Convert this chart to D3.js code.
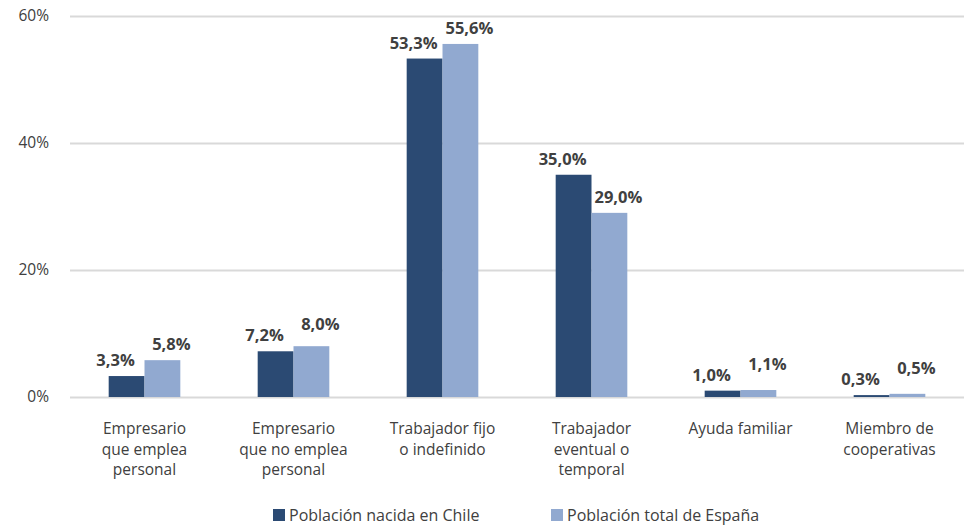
<!DOCTYPE html>
<html>
<head>
<meta charset="utf-8">
<script src="https://cdn.jsdelivr.net/npm/d3@7"></script>
<style>
  html, body { margin: 0; padding: 0; background: #fff; }
  svg { display: block; }
</style>
</head>
<body>
<svg id="chart" width="964" height="527"></svg>
<script>
const categories = [
  ["Empresario", "que emplea", "personal"],
  ["Empresario", "que no emplea", "personal"],
  ["Trabajador fijo", "o indefinido"],
  ["Trabajador", "eventual o", "temporal"],
  ["Ayuda familiar"],
  ["Miembro de", "cooperativas"]
];
const seriesNames = ["Población nacida en Chile", "Población total de España"];
const chileValues = [3.3, 7.2, 53.3, 35.0, 1.0, 0.3];
const espanaValues = [5.8, 8.0, 55.6, 29.0, 1.1, 0.5];
const yTicks = [0, 20, 40, 60];

const colors = ["#2B4A73", "#91A9D0"];
const textColor = "#404040";
const font = "'Open Sans', sans-serif";

const svg = d3.select("#chart");

const y = d3.scaleLinear().domain([0, 60]).range([397, 16]);
const x0 = d3.scaleBand().domain(d3.range(categories.length)).range([70, 964]).paddingInner(0).paddingOuter(0);
const x1 = d3.scaleBand().domain([0, 1]).range([0, x0.bandwidth()]).paddingInner(0).paddingOuter(1.08);

// gridlines
const yAxis = d3.axisLeft(y).tickValues(yTicks).tickSize(-(964 - 70)).tickFormat(d => d + "%");
const gy = svg.append("g").attr("transform", "translate(70,0)").call(yAxis);
gy.select(".domain").remove();
gy.selectAll(".tick line").attr("stroke", "#D9D9D9").attr("stroke-width", 2);
gy.selectAll(".tick text").attr("x", -21).attr("dy", "0.32em")
  .attr("font-family", font).attr("font-size", 15.5).attr("fill", textColor);

const data = categories.map((c, i) => ({ i, vals: [chileValues[i], espanaValues[i]] }));

const groups = svg.append("g").selectAll("g").data(data).join("g")
  .attr("transform", d => `translate(${x0(d.i)},0)`);

groups.selectAll("rect").data(d => d.vals.map((v, s) => ({ v, s }))).join("rect")
  .attr("x", d => x1(d.s))
  .attr("width", x1.bandwidth())
  .attr("y", d => y(d.v))
  .attr("height", d => y(0) - y(d.v))
  .attr("fill", d => colors[d.s]);

// value labels
const fmt = v => v.toFixed(1).replace(".", ",") + "%";
groups.each(function(d) {
  const g = d3.select(this);
  const darkBase = y(d.vals[0]) - 10;
  let lightBase = y(d.vals[1]) - 10;
  if (d.vals[1] >= d.vals[0]) lightBase = Math.min(lightBase, darkBase - 11);
  g.append("text")
    .attr("x", x1(0) + x1.bandwidth() / 2 - 11)
    .attr("y", darkBase)
    .attr("text-anchor", "middle")
    .attr("font-family", font).attr("font-weight", 700).attr("font-size", 16.5)
    .attr("fill", textColor).text(fmt(d.vals[0]));
  g.append("text")
    .attr("x", x1(1) + x1.bandwidth() / 2 + 9)
    .attr("y", lightBase)
    .attr("text-anchor", "middle")
    .attr("font-family", font).attr("font-weight", 700).attr("font-size", 16.5)
    .attr("fill", textColor).text(fmt(d.vals[1]));
});

// category labels
groups.append("text")
  .attr("text-anchor", "middle")
  .attr("font-family", font).attr("font-size", 15.5).attr("fill", textColor)
  .selectAll("tspan").data((d) => categories[d.i]).join("tspan")
  .attr("x", x0.bandwidth() / 2)
  .attr("y", (t, k) => 434 + k * 20.5)
  .text(t => t);

// legend
const legendX = [273, 551];
const lg = svg.append("g").selectAll("g").data(seriesNames).join("g")
  .attr("transform", (d, i) => `translate(${legendX[i]},509)`);
lg.append("rect").attr("width", 12).attr("height", 12).attr("fill", (d, i) => colors[i]);
lg.append("text").attr("x", 16).attr("y", 12)
  .attr("font-family", font).attr("font-size", 16).attr("fill", textColor)
  .text(d => d);
</script>
</body>
</html>
